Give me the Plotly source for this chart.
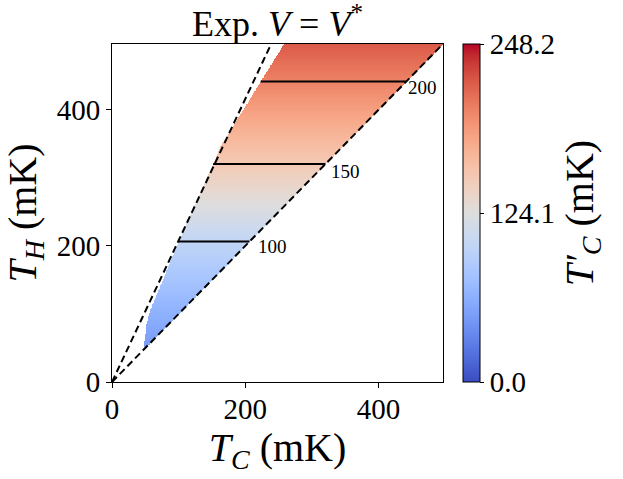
import numpy as np
import plotly.graph_objects as go

# ---- data ----
# T'_C (mK) as a function of T_H (mK)
th_pts = [52, 100, 150, 206.5, 260, 320.6, 380, 442, 497]
tcp_pts = [47, 63, 80, 100, 123.5, 150, 174.5, 200, 220]

# left boundary of the valid region: T_C (mK) at given T_H (mK)
th_edge = [51.5, 60, 81, 105, 135, 169, 206, 260, 321, 345.6, 409, 441, 488, 497]
tc_edge = [48.6, 49, 51, 57, 70, 84, 99.7, 124, 152, 162.4, 202.5, 222.6, 252.6, 258]

contour_levels = [100, 150, 200]
steep_ratio = 2.08      # T_H / T_C of the steep dashed line
unit_ratio = 1.0        # T_H = T_C dashed line
axis_max = 497
cbar_max = 248.2
cbar_ticks = [0.0, 124.1, 248.2]
cbar_ticktext = ["0.0", "124.1", "248.2"]
xy_ticks = [0, 200, 400]

coolwarm = [
    (0.0, (59, 76, 192)), (0.03125, (68, 90, 204)), (0.0625, (77, 104, 215)),
    (0.09375, (87, 117, 225)), (0.125, (98, 130, 234)), (0.15625, (108, 142, 241)),
    (0.1875, (119, 154, 247)), (0.21875, (130, 165, 251)), (0.25, (141, 176, 254)),
    (0.28125, (152, 185, 255)), (0.3125, (163, 194, 255)), (0.34375, (174, 201, 253)),
    (0.375, (184, 208, 249)), (0.40625, (194, 213, 244)), (0.4375, (204, 217, 238)),
    (0.46875, (213, 219, 230)), (0.5, (221, 221, 221)), (0.53125, (229, 216, 209)),
    (0.5625, (236, 211, 197)), (0.59375, (241, 204, 185)), (0.625, (245, 196, 173)),
    (0.65625, (247, 187, 160)), (0.6875, (247, 177, 148)), (0.71875, (247, 166, 135)),
    (0.75, (244, 154, 123)), (0.78125, (241, 141, 111)), (0.8125, (236, 127, 99)),
    (0.84375, (229, 112, 88)), (0.875, (222, 96, 77)), (0.90625, (213, 80, 66)),
    (0.9375, (203, 62, 56)), (0.96875, (192, 40, 47)), (1.0, (180, 4, 38)),
]
colorscale = [[s, "rgb(%d,%d,%d)" % c] for s, c in coolwarm]

# ---- grid ----
tc = np.arange(0, axis_max + 0.5, 1.0)
th = np.arange(0, axis_max + 0.5, 1.0)
TC, TH = np.meshgrid(tc, th)
Z = np.interp(TH, th_pts, tcp_pts)
left = np.interp(TH, th_edge, tc_edge)
mask = (TC <= TH * unit_ratio) & (TC >= left) & (TH >= th_edge[0])
Z = np.where(mask, Z, np.nan)

FONT = "Liberation Serif"

fig = go.Figure()
fig.add_trace(go.Heatmap(
    x=tc, y=th, z=Z, zmin=0, zmax=cbar_max, colorscale=colorscale,
    zsmooth=False, hoverinfo="skip",
    colorbar=dict(
        x=1.0605, xanchor="left", xpad=0, y=0.5, yanchor="middle", ypad=0,
        len=1, lenmode="fraction",
        thickness=17, outlinewidth=1, outlinecolor="black",
        tickvals=cbar_ticks, ticktext=cbar_ticktext, ticks="outside", ticklen=4,
        tickcolor="black", tickfont=dict(family=FONT, size=29, color="black"),
        title=dict(text="<i>T′</i><sub><i>C</i></sub> (mK)", side="right",
                   font=dict(family=FONT, size=40, color="black")),
    ),
))

# dashed bounding lines
fig.add_trace(go.Scatter(x=[0, axis_max / steep_ratio * 1.05], y=[0, axis_max * 1.05],
                         mode="lines", line=dict(color="black", width=2, dash="7px,4px"),
                         hoverinfo="skip", showlegend=False))
fig.add_trace(go.Scatter(x=[0, axis_max * 1.05], y=[0, axis_max * 1.05 * unit_ratio],
                         mode="lines", line=dict(color="black", width=2, dash="7px,4px"),
                         hoverinfo="skip", showlegend=False))

# contour lines
xshifts = [23, 20, 16]
yshifts = [-5, -8, -6]
for lev, xs, ys in zip(contour_levels, xshifts, yshifts):
    th_l = float(np.interp(lev, tcp_pts, th_pts))
    x0 = float(np.interp(th_l, th_edge, tc_edge))
    x1 = th_l * unit_ratio
    fig.add_trace(go.Scatter(x=[x0, x1], y=[th_l, th_l], mode="lines",
                             line=dict(color="black", width=2),
                             hoverinfo="skip", showlegend=False))
    fig.add_annotation(x=x1, y=th_l, text=str(lev), showarrow=False,
                       xshift=xs, yshift=ys,
                       font=dict(family=FONT, size=19, color="black"))

axis_common = dict(
    range=[0, axis_max], showgrid=False, zeroline=False,
    showline=True, linecolor="black", linewidth=1, mirror=True,
    ticks="outside", ticklen=5, tickwidth=1, tickcolor="black",
    tickvals=xy_ticks, tickfont=dict(family=FONT, size=29, color="black"),
)
fig.update_xaxes(**axis_common, ticklabelstandoff=-4,
                 title=dict(text="<i>T</i><sub><i>C</i></sub> (mK)", standoff=4,
                            font=dict(family=FONT, size=40, color="black")))
fig.update_yaxes(**axis_common,
                 title=dict(text="<i>T</i><sub><i>H</i></sub> (mK)", standoff=8,
                            font=dict(family=FONT, size=40, color="black")))

fig.update_layout(
    width=623, height=479,
    margin=dict(l=112, r=180, t=44, b=97, autoexpand=False),
    plot_bgcolor="white", paper_bgcolor="white",
    title=dict(text="Exp. <i>V</i> = <i>V</i><sup>*</sup>", x=0.4455, xanchor="center",
               y=0.925, yanchor="bottom",
               font=dict(family=FONT, size=36, color="black")),
    showlegend=False,
)

fig.write_html("out.html", config={"displayModeBar": False},
               post_script="document.body.style.margin='0';")
